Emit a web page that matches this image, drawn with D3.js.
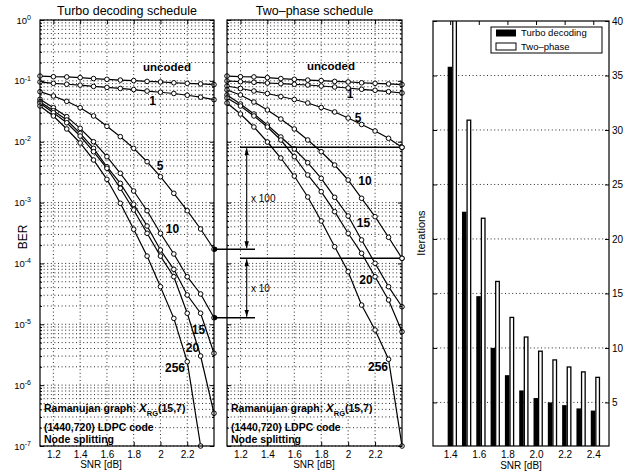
<!DOCTYPE html>
<html><head><meta charset="utf-8">
<script src="https://cdn.jsdelivr.net/npm/d3@7"></script>
<style>
body{margin:0;background:#fff}
svg{display:block}
text{font-family:"Liberation Sans",Arial,Helvetica,sans-serif;fill:#000}
</style></head>
<body>
<script>
// ---------------- data ----------------
const snr = [1.1,1.2,1.3,1.4,1.5,1.6,1.7,1.8,1.9,2.0,2.1,2.2,2.3,2.4];
const snrTicks = [1.2,1.4,1.6,1.8,2.0,2.2];
const berTicks = [1,1e-1,1e-2,1e-3,1e-4,1e-5,1e-6,1e-7];
const iterLabels = ["uncoded","1","5","10","15","20","256"];

const berUncoded = [0.120,0.117,0.116,0.113,0.109,0.106,0.103,0.101,0.098,0.096,0.093,0.091,0.089,0.087];

const turbo1   = [0.096,0.091,0.088,0.085,0.081,0.078,0.075,0.072,0.068,0.065,0.062,0.058,0.054,0.049];
const turbo5   = [0.0664,0.0564,0.0461,0.0362,0.0265,0.0179,0.0121,0.00779,0.00469,0.00266,0.00142,7.35e-4,3.68e-4,1.71e-4];
const turbo10  = [0.0498,0.0362,0.0258,0.0166,0.0100,0.00567,0.00303,0.00155,7.35e-4,3.13e-4,1.43e-4,6.05e-5,3.15e-5,1.28e-5];
const turbo15  = [0.0454,0.0323,0.0227,0.01374,0.00779,0.00388,0.00207,9.37e-4,4.12e-4,1.66e-4,8.0e-5,3.03e-5,1.52e-5,3.34e-6];
const turbo20  = [0.0428,0.0300,0.0205,0.0124,0.00685,0.00366,0.00172,7.55e-4,3.13e-4,1.32e-4,6.05e-5,1.52e-5,3.01e-6,3.45e-7];
const turbo256 = [0.0386,0.0265,0.0162,0.00953,0.00501,0.00241,9.73e-4,3.64e-4,1.32e-4,4.15e-5,1.25e-5,2.43e-6,1.0e-7];

const twoPhase1   = [0.0995,0.0969,0.0947,0.0922,0.0898,0.0878,0.0855,0.0823,0.0793,0.0763,0.0727,0.0700,0.0664,0.0632];
const twoPhase5   = [0.0823,0.0749,0.0681,0.0620,0.0553,0.0494,0.0433,0.0365,0.0308,0.0245,0.0192,0.0150,0.01138,0.00809];
const twoPhase10  = [0.0708,0.0586,0.0449,0.0332,0.0236,0.0162,0.01067,0.00685,0.00414,0.00235,0.001175,5.86e-4,2.69e-4,1.214e-4];
const twoPhase15  = [0.0586,0.0417,0.0285,0.0188,0.01195,0.00759,0.00452,0.00250,0.00122,6.02e-4,2.43e-4,1.005e-4,4.15e-5,1.94e-5];
const twoPhase20  = [0.0523,0.0386,0.0265,0.01745,0.01067,0.00567,0.00284,0.00151,7.08e-4,3.13e-4,1.467e-4,6.05e-5,2.51e-5,7.55e-6];
const twoPhase256 = [0.0433,0.0285,0.01745,0.00989,0.00540,0.00273,0.001235,4.98e-4,1.88e-4,7.31e-5,2.07e-5,8.05e-6,2.66e-6,1.0e-7];

const barSnr = [1.4,1.5,1.6,1.7,1.8,1.9,2.0,2.1,2.2,2.3,2.4];
const barTicks = [1.4,1.6,1.8,2.0,2.2,2.4];
const iterTicks = [5,10,15,20,25,30,35,40];
const itersTurbo    = [35.8,22.5,14.75,10.0,7.5,6.1,5.4,5.0,4.75,4.45,4.25];
const itersTwoPhase = [45,30.9,21.9,16.1,12.8,11.0,9.7,8.9,8.25,7.8,7.3];
const legendLabels = ["Turbo decoding","Two\u2013phase"];

// ---------------- drawing ----------------
const W = 629, H = 474;
const svg = d3.select("body").append("svg").attr("width", W).attr("height", H);
svg.append("rect").attr("width", W).attr("height", H).attr("fill", "#fff");
const defs = svg.append("defs");
defs.append("marker").attr("id","ah").attr("viewBox","0 0 10 10")
  .attr("refX",10).attr("refY",5).attr("markerWidth",7).attr("markerHeight",4.5)
  .attr("markerUnits","userSpaceOnUse").attr("orient","auto-start-reverse")
  .attr("preserveAspectRatio","none")
  .append("path").attr("d","M0,0L10,5L0,10z").attr("fill","#000");

const TOP = 20, BOT = 446;
const y = d3.scaleLog().domain([1e-7, 1]).range([BOT, TOP]);
const DOT = "1,2.6";
const GRIDC = "#111", GRIDW = 0.9;

function berPanel(x0, x1, curves, opt) {
  const x = d3.scaleLinear().domain([snr[0], snr[snr.length-1]]).range([x0, x1]);
  const g = svg.append("g");
  // grid
  g.append("g").selectAll("line").data(y.ticks()).join("line")
    .attr("x1", x0).attr("x2", x1).attr("y1", d => y(d)).attr("y2", d => y(d))
    .attr("stroke", GRIDC).attr("stroke-width", GRIDW).attr("stroke-dasharray", DOT);
  g.append("g").selectAll("line").data(snrTicks).join("line")
    .attr("x1", d => x(d)).attr("x2", d => x(d)).attr("y1", TOP).attr("y2", BOT)
    .attr("stroke", GRIDC).attr("stroke-width", GRIDW).attr("stroke-dasharray", DOT);

  // annotation text
  const ta = g.append("text").attr("x", x0 + 4).attr("y", 412)
    .attr("font-size", 10.5).attr("font-weight", "bold");
  ta.append("tspan").text("Ramanujan graph:  ");
  ta.append("tspan").attr("font-style","italic").attr("font-size",11.5).text("X");
  ta.append("tspan").attr("font-size",7.5).attr("dy",4).text("RG");
  ta.append("tspan").attr("dy",-4).text("(15,7)");
  g.append("text").attr("x", x0 + 4).attr("y", 431).attr("font-size", 10.5)
    .attr("font-weight","bold").text("(1440,720) LDPC code");
  g.append("text").attr("x", x0 + 4).attr("y", 443).attr("font-size", 10.5)
    .attr("font-weight","bold").text("Node splitting");

  // curve labels
  opt.labels.forEach((p, i) => {
    g.append("text").attr("x", p[0]).attr("y", p[1]).attr("dy", "0.36em")
      .attr("text-anchor", "middle").attr("font-weight", "bold")
      .attr("font-size", i === 0 ? 11.5 : 12).text(iterLabels[i]);
  });

  // curves
  const line = d3.line().x((d, i) => x(snr[i])).y(d => y(d));
  curves.forEach(c => {
    g.append("path").attr("d", line(c)).attr("fill", "none")
      .attr("stroke", "#000").attr("stroke-width", 1.2);
  });
  curves.forEach(c => {
    g.append("g").selectAll("circle").data(c).join("circle")
      .attr("cx", (d, i) => x(snr[i])).attr("cy", d => y(d)).attr("r", 2.3)
      .attr("fill", "#fff").attr("stroke", "#000").attr("stroke-width", 1);
  });

  // frame
  g.append("rect").attr("x", x0).attr("y", TOP).attr("width", x1 - x0).attr("height", BOT - TOP)
    .attr("fill", "none").attr("stroke", "#000").attr("stroke-width", 1.2);

  // axes ticks
  const minor = y.ticks().filter(d => !berTicks.some(b => Math.abs(b - d) / b < 1e-6));
  const aL = g.append("g").attr("transform", `translate(${x0},0)`)
    .call(d3.axisLeft(y).tickValues(berTicks).tickSize(-4).tickPadding(opt.yLabels ? 6 : 0)
      .tickFormat(opt.yLabels ? (d => "10") : ""));
  g.append("g").attr("transform", `translate(${x0},0)`)
    .call(d3.axisLeft(y).tickValues(minor).tickSize(-2).tickFormat(""));
  g.append("g").attr("transform", `translate(${x1},0)`)
    .call(d3.axisRight(y).tickValues(berTicks).tickSize(-4).tickFormat(""));
  g.append("g").attr("transform", `translate(${x1},0)`)
    .call(d3.axisRight(y).tickValues(minor).tickSize(-2).tickFormat(""));
  g.append("g").attr("transform", `translate(0,${BOT})`)
    .call(d3.axisBottom(x).tickValues(snrTicks).tickSize(-4).tickPadding(5)
      .tickFormat(d => d3.format("")(+d.toFixed(1))));
  g.append("g").attr("transform", `translate(0,${TOP})`)
    .call(d3.axisTop(x).tickValues(snrTicks).tickSize(-4).tickFormat(""));
  g.selectAll(".domain").remove();
  g.selectAll(".tick line").attr("stroke", "#000");
  g.selectAll(".tick text").attr("font-family", "Liberation Sans, Arial, sans-serif")
    .attr("font-size", 10).attr("fill", "#000");
  if (opt.yLabels) {
    aL.selectAll(".tick text").each(function(d) {
      const t = d3.select(this);
      const e = Math.round(Math.log10(d));
      t.text("").attr("x", -9).attr("font-size", 9.5);
      t.append("tspan").text("10");
      t.append("tspan").attr("dy", "-0.55em").attr("font-size", 7).text(String(e));
    });
  }
  // title & x label
  svg.append("text").attr("x", (x0 + x1) / 2).attr("y", 15).attr("text-anchor", "middle")
    .attr("font-size", 12.5).text(opt.title);
  svg.append("text").attr("x", opt.xlabX).attr("y", 468).attr("text-anchor", "middle")
    .attr("font-size", 10).text("SNR [dB]");
  return x;
}

const xL = berPanel(40, 214,
  [berUncoded, turbo1, turbo5, turbo10, turbo15, turbo20, turbo256],
  { title: "Turbo decoding schedule", yLabels: true, xlabX: 101,
    labels: [[167,67],[152.5,101],[160,166],[172.5,229],[198.5,330],[192.5,348],[175,368]] });
const xM = berPanel(227, 402,
  [berUncoded, twoPhase1, twoPhase5, twoPhase10, twoPhase15, twoPhase20, twoPhase256],
  { title: "Two\u2013phase schedule", yLabels: false, xlabX: 314,
    labels: [[331,66],[350,94],[358,118],[365,181],[363.5,223],[366,280],[378,367]] });

// BER label
svg.append("text").attr("transform", "translate(27,237) rotate(-90)")
  .attr("text-anchor", "middle").attr("font-size", 12).text("BER");

// ---------- gain annotations ----------
const last = a => a[a.length - 1];
const ann = svg.append("g");
const yT5 = y(last(turbo5)), yT10 = y(last(turbo10));
const yP5 = y(last(twoPhase5)), yP10 = y(last(twoPhase10));
const xEndL = xL(last(snr)), xEndM = xM(last(snr));
[yT5, yT10].forEach(yy => {
  ann.append("line").attr("x1", xEndL).attr("x2", 255).attr("y1", yy).attr("y2", yy)
    .attr("stroke", "#000").attr("stroke-width", 1.6);
  ann.append("circle").attr("cx", xEndL + 1).attr("cy", yy).attr("r", 2.4).attr("fill", "#000");
});
[yP5, yP10].forEach(yy => {
  ann.append("line").attr("x1", 240).attr("x2", xEndM).attr("y1", yy).attr("y2", yy)
    .attr("stroke", "#000").attr("stroke-width", 1.6);
  ann.append("circle").attr("cx", xEndM).attr("cy", yy).attr("r", 2.3)
    .attr("fill", "#fff").attr("stroke", "#000").attr("stroke-width", 1);
});
[[yP5, yT5, "x 100"], [yP10, yT10, "x 10"]].forEach(([a, b, lab]) => {
  ann.append("line").attr("x1", 246.7).attr("x2", 246.7).attr("y1", a + 1).attr("y2", b - 1)
    .attr("stroke", "#000").attr("stroke-width", 1.1)
    .attr("marker-start", "url(#ah)").attr("marker-end", "url(#ah)");
  ann.append("text").attr("x", 251).attr("y", (a + b) / 2).attr("dy", "0.35em")
    .attr("font-size", 10).text(lab);
});

// ---------------- bar panel ----------------
const BX0 = 433, BX1 = 609, BT = 21, BB = 446;
const xb = d3.scaleLinear().domain([1.28, 2.51]).range([BX0, BX1]);
const yb = d3.scaleLinear().domain([1, 40]).range([BB, BT]);
const gb = svg.append("g");
defs.append("clipPath").attr("id", "bclip").append("rect")
  .attr("x", BX0).attr("y", BT).attr("width", BX1 - BX0).attr("height", BB - BT);
gb.append("g").selectAll("line").data(iterTicks.filter(d => d < 40)).join("line")
  .attr("x1", BX0).attr("x2", BX1).attr("y1", d => yb(d)).attr("y2", d => yb(d))
  .attr("stroke", GRIDC).attr("stroke-width", GRIDW).attr("stroke-dasharray", DOT);
const bars = gb.append("g").attr("clip-path", "url(#bclip)");
bars.selectAll(".bt").data(itersTurbo).join("rect")
  .attr("x", (d, i) => xb(barSnr[i]) - 2.5).attr("width", 4.5)
  .attr("y", d => yb(d)).attr("height", d => BB - yb(d)).attr("fill", "#000");
bars.selectAll(".bp").data(itersTwoPhase).join("rect")
  .attr("x", (d, i) => xb(barSnr[i]) + 2.6).attr("width", 3.6)
  .attr("y", d => yb(d)).attr("height", d => BB - yb(d) + 2)
  .attr("fill", "#fff").attr("stroke", "#000").attr("stroke-width", 1.3);
gb.append("rect").attr("x", BX0).attr("y", BT).attr("width", BX1 - BX0).attr("height", BB - BT)
  .attr("fill", "none").attr("stroke", "#000").attr("stroke-width", 1.2);
gb.append("g").attr("transform", `translate(${BX1},0)`)
  .call(d3.axisRight(yb).tickValues(iterTicks).tickSize(-4).tickPadding(3));
gb.append("g").attr("transform", `translate(${BX0},0)`)
  .call(d3.axisLeft(yb).tickValues(iterTicks).tickSize(-4).tickFormat(""));
gb.append("g").attr("transform", `translate(0,${BB})`)
  .call(d3.axisBottom(xb).tickValues(barTicks).tickSize(-4).tickPadding(5).tickFormat(d3.format(".1f")));
gb.append("g").attr("transform", `translate(0,${BT})`)
  .call(d3.axisTop(xb).tickValues(barTicks).tickSize(-4).tickFormat(""));
gb.selectAll(".domain").remove();
gb.selectAll(".tick line").attr("stroke", "#000");
gb.selectAll(".tick text").attr("font-family", "Liberation Sans, Arial, sans-serif")
  .attr("font-size", 10).attr("fill", "#000");
svg.append("text").attr("x", (BX0 + BX1) / 2).attr("y", 469).attr("text-anchor", "middle")
  .attr("font-size", 10).text("SNR [dB]");
svg.append("text").attr("transform", "translate(425,233) rotate(-90)")
  .attr("text-anchor", "middle").attr("font-size", 11).text("Iterations");

// legend
const lg = svg.append("g");
lg.append("rect").attr("x", 491).attr("y", 27).attr("width", 111).attr("height", 26)
  .attr("fill", "#fff").attr("stroke", "#000").attr("stroke-width", 1);
lg.append("rect").attr("x", 496).attr("y", 29.5).attr("width", 20).attr("height", 7).attr("fill", "#000");
lg.append("rect").attr("x", 496).attr("y", 43).attr("width", 20).attr("height", 7)
  .attr("fill", "#fff").attr("stroke", "#000").attr("stroke-width", 1);
legendLabels.forEach((t, i) => {
  lg.append("text").attr("x", 521).attr("y", 33 + i * 13.5).attr("dy", "0.35em")
    .attr("font-size", 9.5).text(t);
});
</script>
</body></html>
